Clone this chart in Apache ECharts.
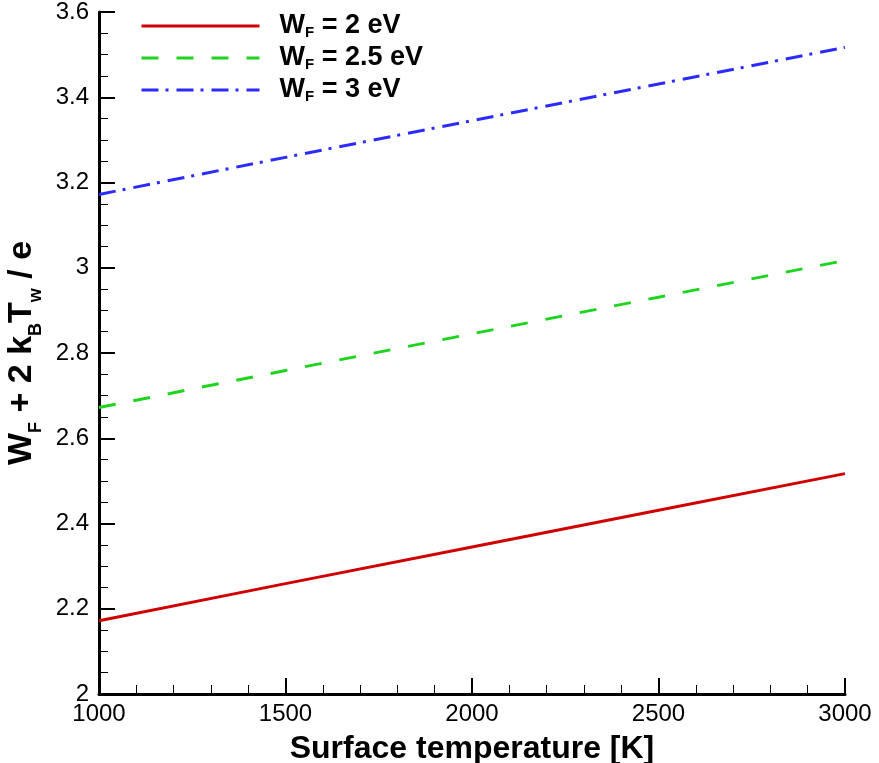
<!DOCTYPE html>
<html><head><meta charset="utf-8">
<script src="https://cdn.jsdelivr.net/npm/echarts@6/dist/echarts.min.js"></script>
<style>html,body{margin:0;padding:0;background:#fff}#c{width:879px;height:763px}</style>
</head><body><div id="c"></div>
<script>
const temps = [1000, 1500, 2000, 2500, 3000];
const wf2 = [2.172, 2.259, 2.345, 2.431, 2.517];
const wf25 = [2.672, 2.759, 2.845, 2.931, 3.017];
const wf3 = [3.172, 3.259, 3.345, 3.431, 3.517];
const seriesNames = ['WF = 2 eV', 'WF = 2.5 eV', 'WF = 3 eV'];
const legendTexts = ['{b|W}{s|F}{b| = 2 eV}', '{b|W}{s|F}{b| = 2.5 eV}', '{b|W}{s|F}{b| = 3 eV}'];
const xTicks = [1000, 1500, 2000, 2500, 3000];
const yTicks = [2, 2.2, 2.4, 2.6, 2.8, 3, 3.2, 3.4, 3.6];

const font = '"Liberation Sans", Arial, sans-serif';
const chart = echarts.init(document.getElementById('c'));
function pts(ys){ return temps.map((t,i)=>[t, ys[i]]); }
const colors = ['#d10000', '#1ed41e', '#2b2bff'];
const dashes = ['solid', [17,18], [17,7,3,8]];
const dataSets = [wf2, wf25, wf3];
chart.setOption({
  animation: false,
  grid: {left: 99, right: 34, top: 12, bottom: 69, outerBoundsMode: 'none', containLabel: false},
  legend: {
    left: 140, top: 12, orient: 'vertical', itemWidth: 118, itemHeight: 28, itemGap: 4, padding: 0,
    data: seriesNames,
    itemStyle: {opacity: 0},
    lineStyle: {width: 3},
    formatter: n => legendTexts[seriesNames.indexOf(n)],
    textStyle: {
      fontFamily: font, fontWeight: 'bold', fontSize: 27, color: '#000',
      padding: [0,0,0,15],
      rich: {
        b: {fontFamily: font, fontWeight: 'bold', fontSize: 27, color: '#000', lineHeight: 28, verticalAlign: 'top'},
        s: {fontFamily: font, fontWeight: 'bold', fontSize: 15, color: '#000', lineHeight: 8, verticalAlign: 'bottom'}
      }
    }
  },
  xAxis: {
    type: 'value', min: 1000, max: 3000, interval: 500,
    name: 'Surface temperature [K]', nameLocation: 'middle', nameGap: 29,
    nameTextStyle: {fontFamily: font, fontWeight: 'bold', fontSize: 32, lineHeight: 36, color: '#000'},
    axisLine: {lineStyle: {color: '#000', width: 3}},
    axisTick: {inside: true, length: 16, lineStyle: {color: '#000', width: 2}},
    minorTick: {show: true, splitNumber: 5, length: 9, lineStyle: {color: '#000', width: 1}},
    splitLine: {show: false},
    axisLabel: {fontFamily: font, fontSize: 24, color: '#000', margin: 8,
      formatter: v => xTicks.includes(v) ? String(v) : ''}
  },
  yAxis: {
    type: 'value', min: 2, max: 3.6, interval: 0.2,
    name: '{b|W}{s|F}{b| + 2 k}{s|B}{b|T}{s|w}{b| / e}', nameLocation: 'middle', nameGap: 53, nameRotate: 90,
    nameTextStyle: {
      rich: {
        b: {fontFamily: font, fontWeight: 'bold', fontSize: 34, color: '#000', lineHeight: 40, verticalAlign: 'top'},
        s: {fontFamily: font, fontWeight: 'bold', fontSize: 18, color: '#000', lineHeight: 16, verticalAlign: 'bottom'}
      }
    },
    axisLine: {show: true, lineStyle: {color: '#000', width: 3}},
    axisTick: {show: true, inside: true, length: 16, lineStyle: {color: '#000', width: 2}},
    minorTick: {show: true, splitNumber: 4, length: 9, lineStyle: {color: '#000', width: 1}},
    splitLine: {show: false},
    axisLabel: {fontFamily: font, fontSize: 24, color: '#000', margin: 10,
      formatter: v => { const m = yTicks.find(t => Math.abs(t - v) < 1e-6); return m === undefined ? '' : String(m); }}
  },
  series: dataSets.map((d,i) => ({
    name: seriesNames[i], type: 'line', data: pts(d), symbol: 'none',
    lineStyle: {color: colors[i], width: 3, type: dashes[i]},
    itemStyle: {color: colors[i]}
  }))
});
</script></body></html>
